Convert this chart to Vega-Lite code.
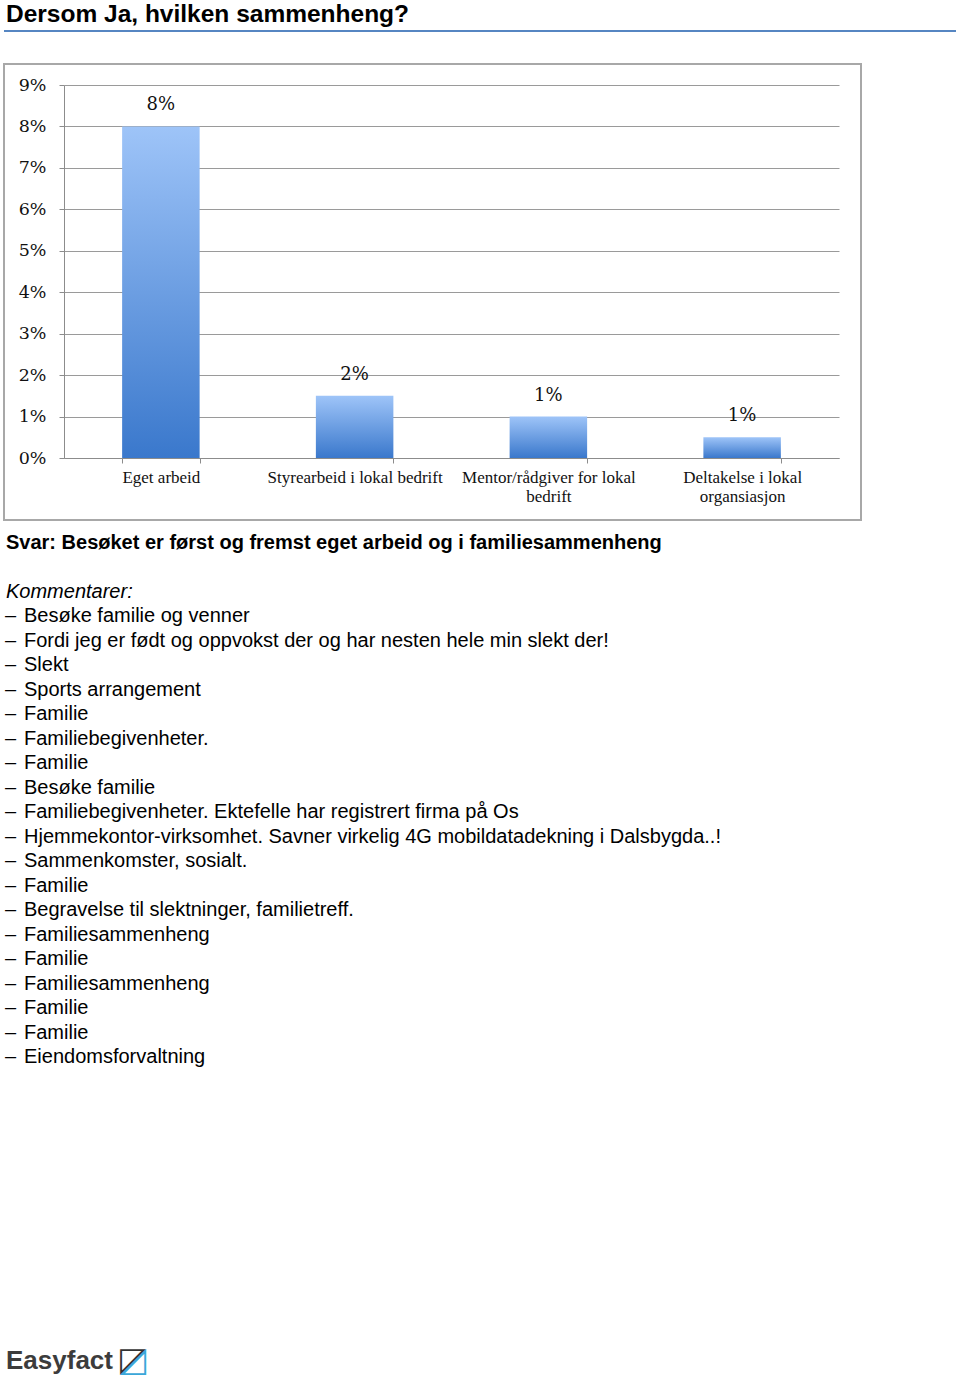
{
  "$schema": "https://vega.github.io/schema/vega-lite/v6.json",
  "padding": {"left": 3, "top": 1, "right": 0, "bottom": 0},
  "background": "white",
  "spacing": 0,
  "bounds": "flush",
  "config": {"view": {"stroke": null}, "font": "Liberation Sans"},
  "vconcat": [
    {
      "width": 952,
      "height": 33,
      "title": {"text": "Dersom Ja, hvilken sammenheng?", "anchor": "start", "frame": "group", "font": "Liberation Sans", "fontSize": 24.5, "fontWeight": "bold", "color": "#000000", "offset": 3, "dx": 2},
      "data": {"values": [{}]},
      "mark": {"type": "rule", "color": "#5686c2", "strokeWidth": 2},
      "encoding": {"y": {"datum": 1, "type": "quantitative", "scale": {"domain": [0, 1]}, "axis": null}}
    },
    {
      "width": 857,
      "height": 456,
      "view": {"stroke": "#a8a8a8", "strokeWidth": 2},
      "data": {"values": [
        {"kategori": "Eget arbeid", "andel": 8, "etikett": "8%"},
        {"kategori": "Styrearbeid i lokal bedrift", "andel": 1.5, "etikett": "2%"},
        {"kategori": "Mentor/rådgiver for lokal bedrift", "andel": 1.0, "etikett": "1%"},
        {"kategori": "Deltakelse i lokal organsiasjon", "andel": 0.5, "etikett": "1%"}
      ]},
      "encoding": {
        "x": {
          "field": "kategori", "type": "nominal", "sort": null,
          "scale": {"range": [60, 835], "paddingInner": 0.6, "paddingOuter": 0.3},
          "axis": {"title": null, "offset": -62, "labelAngle": 0, "labelFont": "Liberation Serif", "labelFontSize": 17, "labelColor": "#111111", "labelPadding": 6, "labelLimit": 400, "labelLineHeight": 19,
            "labelExpr": "length(datum.label) > 28 ? [slice(datum.label, 0, lastindexof(datum.label, ' ')), slice(datum.label, lastindexof(datum.label, ' ') + 1)] : datum.label",
            "tickBand": "extent", "tickSize": 5, "tickColor": "#8c8c8c", "domainColor": "#8c8c8c", "grid": false}
        },
        "y": {
          "field": "andel", "type": "quantitative",
          "scale": {"domain": [0, 9], "range": [394, 21], "nice": false},
          "axis": {"title": null, "offset": -60, "values": [0, 1, 2, 3, 4, 5, 6, 7, 8, 9], "labelExpr": "datum.value + '%'", "labelFont": "DejaVu Serif", "labelFontSize": 17.5, "labelColor": "#111111", "labelPadding": 13, "tickSize": 5, "tickColor": "#8c8c8c", "domainColor": "#8c8c8c", "grid": true, "gridColor": "#9a9a9a"}
        }
      },
      "layer": [
        {"mark": {"type": "bar", "color": {"gradient": "linear", "x1": 0, "y1": 0, "x2": 0, "y2": 1, "stops": [{"offset": 0, "color": "#9ec4f8"}, {"offset": 1, "color": "#3a78cc"}]}}},
        {"mark": {"type": "text", "baseline": "bottom", "dy": -12, "font": "DejaVu Serif", "fontSize": 18, "color": "#111111"}, "encoding": {"text": {"field": "etikett"}}}
      ]
    },
    {
      "width": 857,
      "height": 540,
      "data": {"values": [
        {"linje": 0, "type": "svar", "tekst": "Svar: Besøket er først og fremst eget arbeid og i familiesammenheng"},
        {"linje": 2, "type": "overskrift", "tekst": "Kommentarer:"},
        {"linje": 3, "type": "kommentar", "tekst": "Besøke familie og venner"},
        {"linje": 4, "type": "kommentar", "tekst": "Fordi jeg er født og oppvokst der og har nesten hele min slekt der!"},
        {"linje": 5, "type": "kommentar", "tekst": "Slekt"},
        {"linje": 6, "type": "kommentar", "tekst": "Sports arrangement"},
        {"linje": 7, "type": "kommentar", "tekst": "Familie"},
        {"linje": 8, "type": "kommentar", "tekst": "Familiebegivenheter."},
        {"linje": 9, "type": "kommentar", "tekst": "Familie"},
        {"linje": 10, "type": "kommentar", "tekst": "Besøke familie"},
        {"linje": 11, "type": "kommentar", "tekst": "Familiebegivenheter. Ektefelle har registrert firma på Os"},
        {"linje": 12, "type": "kommentar", "tekst": "Hjemmekontor-virksomhet. Savner virkelig 4G mobildatadekning i Dalsbygda..!"},
        {"linje": 13, "type": "kommentar", "tekst": "Sammenkomster, sosialt."},
        {"linje": 14, "type": "kommentar", "tekst": "Familie"},
        {"linje": 15, "type": "kommentar", "tekst": "Begravelse til slektninger, familietreff."},
        {"linje": 16, "type": "kommentar", "tekst": "Familiesammenheng"},
        {"linje": 17, "type": "kommentar", "tekst": "Familie"},
        {"linje": 18, "type": "kommentar", "tekst": "Familiesammenheng"},
        {"linje": 19, "type": "kommentar", "tekst": "Familie"},
        {"linje": 20, "type": "kommentar", "tekst": "Familie"},
        {"linje": 21, "type": "kommentar", "tekst": "Eiendomsforvaltning"}
      ]},
      "encoding": {
        "x": {"datum": 0, "type": "quantitative", "scale": {"domain": [0, 1]}, "axis": null},
        "y": {"field": "linje", "type": "quantitative", "scale": {"domain": [-0.92, 21.12], "reverse": true, "nice": false, "zero": false}, "axis": null}
      },
      "layer": [
        {"transform": [{"filter": "datum.type === 'svar'"}], "mark": {"type": "text", "align": "left", "baseline": "middle", "dx": 2, "font": "Liberation Sans", "fontSize": 20, "fontWeight": "bold", "color": "#000000"}, "encoding": {"text": {"field": "tekst"}}},
        {"transform": [{"filter": "datum.type === 'overskrift'"}], "mark": {"type": "text", "align": "left", "baseline": "middle", "dx": 2, "font": "Liberation Sans", "fontSize": 20, "fontStyle": "italic", "color": "#000000"}, "encoding": {"text": {"field": "tekst"}}},
        {"transform": [{"filter": "datum.type === 'kommentar'"}], "mark": {"type": "text", "align": "left", "baseline": "middle", "dx": 20, "font": "Liberation Sans", "fontSize": 20, "color": "#000000"}, "encoding": {"text": {"field": "tekst"}}},
        {"transform": [{"filter": "datum.type === 'kommentar'"}], "mark": {"type": "text", "align": "left", "baseline": "middle", "dx": 1, "font": "Liberation Sans", "fontSize": 20, "color": "#000000"}, "encoding": {"text": {"value": "–"}}}
      ]
    },
    {
      "width": 857,
      "height": 316,
      "data": {"values": [{"logo": "Easyfact"}]},
      "encoding": {
        "x": {"datum": 0, "type": "quantitative", "scale": {"domain": [0, 1]}, "axis": null},
        "y": {"datum": 0, "type": "quantitative", "scale": {"domain": [0, 1]}, "axis": null}
      },
      "layer": [
        {"mark": {"type": "text", "align": "left", "baseline": "alphabetic", "dx": 2, "dy": -7, "font": "Liberation Sans", "fontSize": 26, "fontWeight": "bold", "color": "#3c3c3c"}, "encoding": {"text": {"field": "logo"}}},
        {"mark": {"type": "text", "align": "left", "baseline": "alphabetic", "dx": 116, "dy": -5, "font": "DejaVu Sans", "fontSize": 34, "color": "#333333"}, "encoding": {"text": {"value": "◸"}}},
        {"mark": {"type": "text", "align": "left", "baseline": "alphabetic", "dx": 116, "dy": -5, "font": "DejaVu Sans", "fontSize": 34, "color": "#3aa7d9"}, "encoding": {"text": {"value": "◿"}}}
      ]
    }
  ]
}
